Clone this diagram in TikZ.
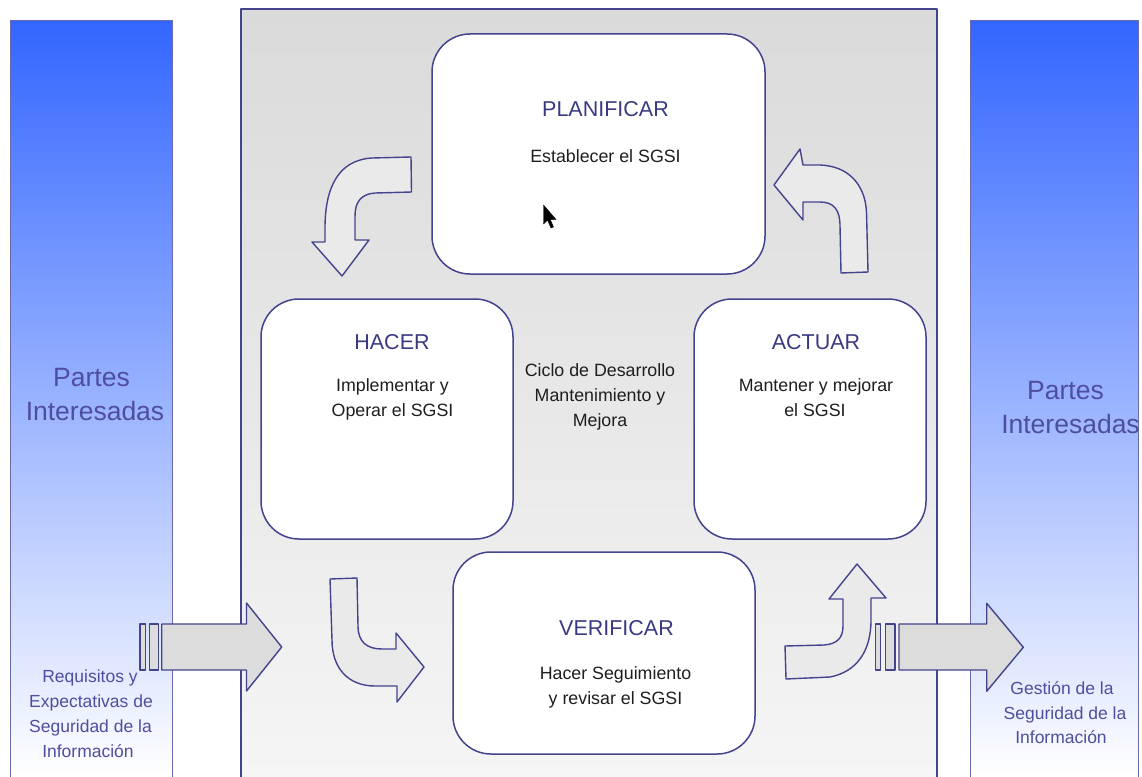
\documentclass[tikz,border=0pt]{standalone}
\usepackage{fontspec}
\setmainfont{Liberation Sans}
\definecolor{edge}{HTML}{44448E}
\definecolor{sideedge}{HTML}{6A6AAA}
\definecolor{sideblue}{HTML}{3366FF}
\definecolor{titlec}{HTML}{3A3A82}
\definecolor{sidetext}{HTML}{4E4E9E}
\definecolor{bodyc}{HTML}{1E1E1E}
\definecolor{arrfill}{HTML}{DCDCDC}
\definecolor{carrfill}{HTML}{EAEAEA}
\begin{document}
\begin{tikzpicture}[x=1pt,y=-1pt,line join=round,
  stagebox/.style={draw=edge,line width=1.5pt,fill=white,rounded corners=38pt,inner sep=0pt},
  titletxt/.style={anchor=base,inner sep=0pt,text=titlec,font=\fontsize{21.5}{25}\selectfont},
  bodytxt/.style={anchor=base,inner sep=0pt,text=bodyc,font=\fontsize{17.8}{25}\selectfont},
  sidetxt/.style={anchor=base,inner sep=0pt,text=sidetext,font=\fontsize{17.5}{25}\selectfont},
  partestxt/.style={anchor=base,inner sep=0pt,text=sidetext,font=\fontsize{26.5}{34}\selectfont},
  blockarrow/.style={draw=edge,line width=1.4pt,fill=arrfill},
  curvedarrow/.style={draw=edge,line width=1.4pt,fill=carrfill}]
\useasboundingbox (0,0) rectangle (1142,776);
\fill[white] (0,0) rectangle (1142,776);
% side bars
\shade[top color=sideblue,bottom color=white,draw=sideedge,line width=1pt] (10,21) rectangle (172,777);
\shade[top color=sideblue,bottom color=white,draw=sideedge,line width=1pt] (970,21) rectangle (1138,777);
% central panel
\shade[top color={rgb,255:red,218;green,218;blue,218},bottom color={rgb,255:red,245;green,245;blue,245},draw=edge,line width=1.2pt] (241,9) rectangle (937,778);
% stage boxes
\node[stagebox,minimum width=333pt,minimum height=240pt] (plan) at (598.5,154) {};
\node[stagebox,minimum width=252pt,minimum height=240pt] (hacer) at (387,419) {};
\node[stagebox,minimum width=232pt,minimum height=240pt] (actuar) at (810,419) {};
\node[stagebox,minimum width=302pt,minimum height=202pt] (verif) at (604,653) {};
% texts in boxes
\node[titletxt] (tplan) at (605.5,116.5) {PLANIFICAR};
\node[bodytxt] (bplan) at (605.5,162.5) {Establecer el SGSI};
\node[titletxt] (thacer) at (392,349) {HACER};
\node[bodytxt] (bhacer1) at (392.5,391) {Implementar y};
\node[bodytxt] (bhacer2) at (392.5,416) {Operar el SGSI};
\node[titletxt] (tactuar) at (816,349) {ACTUAR};
\node[bodytxt] (bactuar1) at (816,391) {Mantener y mejorar};
\node[bodytxt] (bactuar2) at (815,416) {el SGSI};
\node[titletxt] (tverif) at (616.5,635) {VERIFICAR};
\node[bodytxt] (bverif1) at (615.5,679) {Hacer Seguimiento};
\node[bodytxt] (bverif2) at (615.5,704) {y revisar el SGSI};
% center text
\node[bodytxt] (c1) at (600,376) {Ciclo de Desarrollo};
\node[bodytxt] (c2) at (600,401) {Mantenimiento y};
\node[bodytxt] (c3) at (600,426) {Mejora};
% Partes Interesadas
\node[partestxt] (pl1) at (91.5,386.5) {Partes};
\node[partestxt] (pl2) at (95,420.5) {Interesadas};
\node[partestxt] (pr1) at (1065.5,399.5) {Partes};
\node[partestxt] (pr2) at (1070.5,433.5) {Interesadas};
% bottom side texts
\node[sidetxt] (rl1) at (90,682) {Requisitos y};
\node[sidetxt] (rl2) at (91,707) {Expectativas de};
\node[sidetxt] (rl3) at (90.5,732) {Seguridad de la};
\node[sidetxt] (rl4) at (88,757) {Información};
\node[sidetxt] (gr1) at (1062,694) {Gestión de la};
\node[sidetxt] (gr2) at (1065,719) {Seguridad de la};
\node[sidetxt] (gr3) at (1061,743.5) {Información};
% curved arrows
\path[curvedarrow] (411,157) -- (411.5,192) -- (375,193) .. controls (361,194) and (355,202) .. (355,216) -- (355,240) -- (369,240) -- (342,276) -- (312,242) -- (325,242) -- (325,228) .. controls (325,188) and (338,160) .. (372,158) -- cycle;
\path[curvedarrow] (841,273) -- (868,272) -- (866.5,212) .. controls (865,184) and (848,166) .. (820,165) -- (803,165) -- (800,149) -- (774,185) -- (803,220) -- (803,202) -- (820,202) .. controls (834,202) and (840,210) .. (840,226) -- cycle;
\path[curvedarrow] (330,579) -- (357,578) -- (358,626) .. controls (358,642) and (367,649) .. (382,649) -- (396,649) -- (396,633) -- (424,667) -- (397,702) -- (397,686) -- (375,686) .. controls (348,686) and (332,668) .. (332,640) -- cycle;
\path[curvedarrow] (785,646) -- (786,679) -- (830,677) .. controls (856,672) and (871,652) .. (871,620) -- (871,598) -- (886,598) -- (857,564) -- (829,599) -- (843,599) -- (843,626) .. controls (843,638) and (837,644) .. (824,645) -- cycle;
% straight input arrow
\path[blockarrow] (140,624) rectangle (145.7,670);
\path[blockarrow] (149.3,624) rectangle (158.3,670);
\path[blockarrow] (161.7,624) -- (246.5,624) -- (246.5,603) -- (281.7,647) -- (246.5,691) -- (246.5,670) -- (161.7,670) -- cycle;
% straight output arrow
\path[blockarrow] (875.7,624) rectangle (880.7,670);
\path[blockarrow] (885.7,624) rectangle (895,670);
\path[blockarrow] (899,624) -- (986.7,624) -- (986.7,603.3) -- (1023.3,647.3) -- (986.7,691.3) -- (986.7,670) -- (899,670) -- cycle;
% mouse cursor
\fill[black,draw=black,line width=0.4pt] (543.5,205) -- (543.5,224) -- (547.5,220) -- (551,228) -- (553.5,227) -- (550.3,219.5) -- (556,219.5) -- cycle;
\end{tikzpicture}
\end{document}
